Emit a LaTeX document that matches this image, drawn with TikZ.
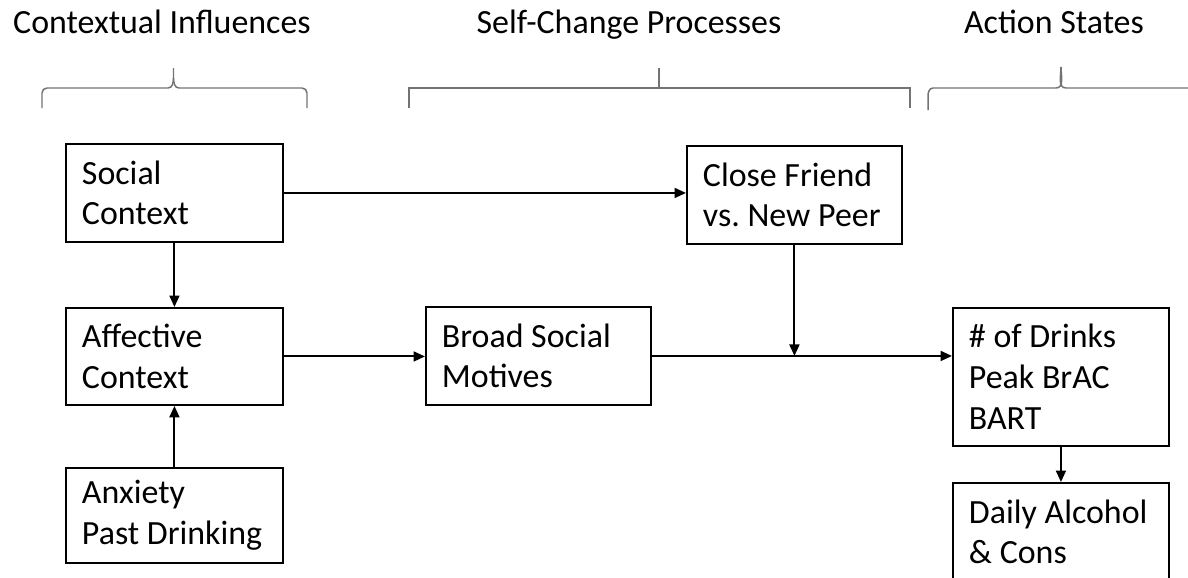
\documentclass[tikz,border=0pt]{standalone}
\usepackage{fontspec}
\setmainfont{Carlito}
\usetikzlibrary{arrows.meta}

\begin{document}
\begin{tikzpicture}[x=0.02cm, y=-0.02cm,
        box/.style={draw, line width=1.1pt, anchor=north west, align=flush left,
            inner xsep=0.32cm, text width=#1,
            font=\fontsize{19.3}{23.2}\selectfont},
        arrow/.style={-{Triangle[length=2.3mm,width=2mm]}, line width=1.1pt},
        bracket/.style={draw=black!55, line width=0.85pt},
        heading/.style={anchor=base, font=\fontsize{19.3}{23.2}\selectfont}]
        % Page
        \clip (0,0) rectangle (1188,578);
        % Headings
        \node[heading] (Head-1) at (162,33) {Contextual Influences};
        \node[heading] (Head-2) at (629,33) {Self-Change Processes};
        \node[heading] (Head-3) at (1054,33) {Action States};
        % Braces
        \draw[bracket] (42,108) -- (42,93) to[out=90,in=180] (47,88) -- (168,88)
            to[out=0,in=-90] (173.5,78) -- (173.5,68);
        \draw[bracket] (173.5,78) to[out=-90,in=180] (179,88) -- (302,88)
            to[out=0,in=90] (307,93) -- (307,108);
        \draw[bracket] (409,108) -- (409,88) -- (910,88) -- (910,108);
        \draw[bracket] (659,88) -- (659,68);
        \draw[bracket] (928,110) -- (928,96) to[out=90,in=180] (933,88) -- (1056,88)
            to[out=0,in=-90] (1061,67);
        \draw[bracket] (1061,67) to[out=-90,in=180] (1066,88) -- (1190,88);
        % Contextual influences
        \node[box=3.70cm, minimum height=1.96cm] (Social) at (65,143)
            {Social\\Context};
        \node[box=3.70cm, minimum height=1.94cm] (Affective) at (65,307)
            {Affective\\Context};
        \node[box=3.70cm, minimum height=1.90cm] (Anxiety) at (65,467)
            {Anxiety\\Past Drinking};
        % Self-change processes
        \node[box=3.66cm, minimum height=1.96cm] (Friend) at (686,145)
            {Close Friend\\vs.\ New Peer};
        \node[box=3.86cm, minimum height=1.96cm] (Motives) at (425,306)
            {Broad Social\\Motives};
        % Action states
        \node[box=3.68cm, minimum height=2.76cm] (Drinks) at (952,307)
            {\# of Drinks\\Peak BrAC\\BART};
        \node[box=3.68cm, minimum height=1.96cm] (Daily) at (952,482)
            {Daily Alcohol\\\& Cons};
        % Paths
        \draw[arrow] (Social.east) -- (Social.east -| Friend.west);
        \draw[arrow] (Social.south) -- (Affective.north);
        \draw[arrow] (Anxiety.north) -- (Affective.south);
        \draw[arrow] (Affective.east) -- (Affective.east -| Motives.west);
        \draw[arrow] (Motives.east) -- (Motives.east -| Drinks.west);
        \coordinate (Join) at (Friend.south |- Motives.east);
        \draw[arrow] (Friend.south) -- (Join);
        \draw[arrow] (Drinks.south) -- (Daily.north);
\end{tikzpicture}
\end{document}
